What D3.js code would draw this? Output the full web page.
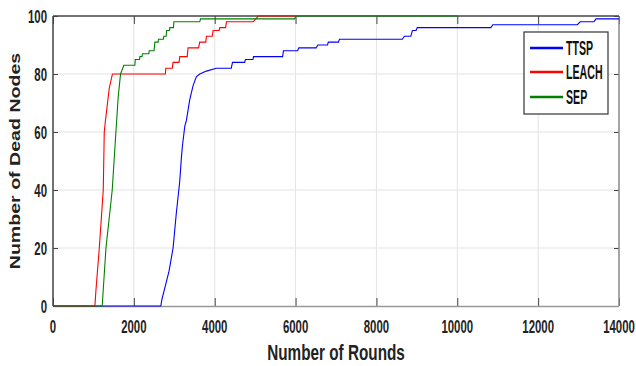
<!DOCTYPE html>
<html>
<head>
<meta charset="utf-8">
<script src="https://cdn.jsdelivr.net/npm/d3@7/dist/d3.min.js"></script>
<style>
  body { margin: 0; background: #fff; }
  svg { display: block; }
</style>
</head>
<body>
<svg id="chart" width="636" height="366"></svg>
<script>
// values: [round, dead nodes]
var ttspData = [[0,0],[2667,0],[2690,2],[2780,7],[2870,12],[2970,20],[3050,32],[3135,43],[3175,51],[3200,55],
  [3260,62],[3300,64],[3380,71],[3465,76],[3545,79],[3630,80],[3795,81],[4040,82],[4410,82],[4440,84],
  [4740,84],[4760,85],[4945,85],[4960,86],[5680,86],[5700,88],[6050,88],[6080,89],[6510,89],[6550,90],
  [6790,90],[6810,91],[7060,91],[7085,92],[8640,92],[8690,93],[8850,93],[8890,95],[8980,95],[9010,96],
  [10830,96],[10880,97],[12970,97],[13040,98],[13380,98],[13430,99],[14000,99]];
var leachData = [[0,0],[1037,0],[1060,5],[1145,20],[1243,40],[1268,60],[1290,63],[1340,69],[1390,75],[1470,80],
  [2780,80],[2790,82],[2950,82],[2970,84],[3120,84],[3135,86],[3320,86],[3340,89],[3600,89],[3630,91],
  [3780,91],[3795,93],[3940,93],[3960,95],[4110,95],[4125,96],[4270,96],[4290,98],[4950,98],[5080,100],[6000,100]];
var sepData = [[0,0],[1218,0],[1240,5],[1310,20],[1465,40],[1556,60],[1612,72],[1671,80],[1753,83],[2025,83],
  [2035,85],[2140,85],[2150,86],[2200,86],[2215,87],[2370,87],[2380,88],[2500,88],[2520,91],[2600,91],
  [2610,92],[2730,92],[2740,93],[2800,93],[2810,95],[2880,95],[2890,96],[2980,96],[2990,98],[3630,98],
  [3650,99],[5980,99],[6000,100],[10000,100]];

var seriesNames = ["TTSP", "LEACH", "SEP"];
var seriesColors = ["#0000ff", "#ff0000", "#008000"];
var xTicks = [0, 2000, 4000, 6000, 8000, 10000, 12000, 14000];
var yTicks = [0, 20, 40, 60, 80, 100];

var translate = function(x, y) { return "translate(" + x + "," + y + ")"; };

var svg = d3.select("#chart");
// note: "top" is a reserved window property, so use a margin object
var box = { left: 53, right: 619, top: 16, bottom: 306 };

var x = d3.scaleLinear().domain([0, 14000]).range([box.left, box.right]);
var y = d3.scaleLinear().domain([0, 100]).range([box.bottom, box.top]);

// grid
svg.append("g").selectAll("line")
  .data(xTicks.slice(1, -1))
  .enter().append("line")
  .attr("x1", function(d) { return x(d); }).attr("x2", function(d) { return x(d); })
  .attr("y1", box.top).attr("y2", box.bottom)
  .attr("stroke", "#e3e3e3").attr("stroke-width", 1);
svg.append("g").selectAll("line")
  .data(yTicks.slice(1, -1))
  .enter().append("line")
  .attr("x1", box.left).attr("x2", box.right)
  .attr("y1", function(d) { return y(d); }).attr("y2", function(d) { return y(d); })
  .attr("stroke", "#e3e3e3").attr("stroke-width", 1);

// axes with inward ticks, no labels (labels drawn below)
var gx = svg.append("g").attr("transform", translate(0, box.bottom))
  .call(d3.axisTop(x).tickValues(xTicks).tickSize(8).tickFormat(""));
var gxTop = svg.append("g").attr("transform", translate(0, box.top))
  .call(d3.axisBottom(x).tickValues(xTicks).tickSize(8).tickFormat(""));
var gy = svg.append("g").attr("transform", translate(box.left, 0))
  .call(d3.axisRight(y).tickValues(yTicks).tickSize(5).tickFormat(""));
var gyRight = svg.append("g").attr("transform", translate(box.right, 0))
  .call(d3.axisLeft(y).tickValues(yTicks).tickSize(5).tickFormat(""));
[gx, gxTop, gy, gyRight].forEach(function(g) {
  g.select(".domain").remove();
  g.selectAll("line").attr("stroke", "#444");
});

// box edges drawn under the data lines
svg.append("line").attr("x1", box.left).attr("x2", box.right).attr("y1", box.bottom + 0.5).attr("y2", box.bottom + 0.5)
  .attr("stroke", "#999").attr("stroke-width", 1.5);
svg.append("line").attr("x1", box.right).attr("x2", box.right).attr("y1", box.top).attr("y2", box.bottom)
  .attr("stroke", "#888").attr("stroke-width", 1.5);
svg.append("line").attr("x1", box.left).attr("x2", box.left).attr("y1", box.top).attr("y2", box.bottom)
  .attr("stroke", "#444").attr("stroke-width", 1.5);
svg.append("line").attr("x1", box.left).attr("x2", box.right).attr("y1", box.top).attr("y2", box.top)
  .attr("stroke", "#444").attr("stroke-width", 1.5);

// lines
var line = d3.line()
  .x(function(d) { return x(d[0]); })
  .y(function(d) { return y(d[1]); });

[ttspData, leachData, sepData].forEach(function(data, i) {
  svg.append("path")
    .datum(data)
    .attr("fill", "none")
    .attr("stroke", seriesColors[i])
    .attr("stroke-width", 1.1)
    .attr("d", line);
});

// tick labels
var font = "'Liberation Sans', Arial, sans-serif";
svg.append("g").selectAll("text")
  .data(xTicks)
  .enter().append("text")
  .attr("transform", function(d) { return translate(x(d), 333) + " scale(0.95,1.55)"; })
  .attr("text-anchor", "middle")
  .style("font-family", font).style("font-weight", "bold").style("font-size", "12px")
  .style("fill", "#222")
  .text(function(d) { return d; });
svg.append("g").selectAll("text")
  .data(yTicks)
  .enter().append("text")
  .attr("transform", function(d) { return translate(47, y(d) + 6.5) + " scale(0.95,1.55)"; })
  .attr("text-anchor", "end")
  .style("font-family", font).style("font-weight", "bold").style("font-size", "12px")
  .style("fill", "#222")
  .text(function(d) { return d; });

// axis titles
svg.append("text")
  .attr("transform", translate(336, 360) + " scale(0.9,1.35)")
  .attr("text-anchor", "middle")
  .style("font-family", font).style("font-weight", "bold").style("font-size", "17px")
  .style("fill", "#222")
  .text("Number of Rounds");
svg.append("text")
  .attr("transform", translate(20, 161) + " rotate(-90) scale(1.4,1)")
  .attr("text-anchor", "middle")
  .style("font-family", font).style("font-weight", "bold").style("font-size", "14px")
  .style("fill", "#222")
  .text("Number of Dead Nodes");

// legend
var legend = svg.append("g").attr("transform", translate(524, 32));
legend.append("rect")
  .attr("width", 84).attr("height", 82)
  .attr("fill", "#fff").attr("stroke", "#333").attr("stroke-width", 1.2);
var legendY = [16, 40, 65];
var item = legend.selectAll(".item")
  .data(seriesNames)
  .enter().append("g")
  .attr("class", "item")
  .attr("transform", function(d, i) { return translate(0, legendY[i]); });
item.append("line")
  .attr("x1", 6).attr("x2", 39)
  .attr("stroke", function(d, i) { return seriesColors[i]; })
  .attr("stroke-width", 2.5);
item.append("text")
  .attr("transform", translate(42, 6.5) + " scale(0.85,1.55)")
  .style("font-family", font).style("font-weight", "bold").style("font-size", "12.5px")
  .style("fill", "#111")
  .text(function(d) { return d; });
</script>
</body>
</html>
